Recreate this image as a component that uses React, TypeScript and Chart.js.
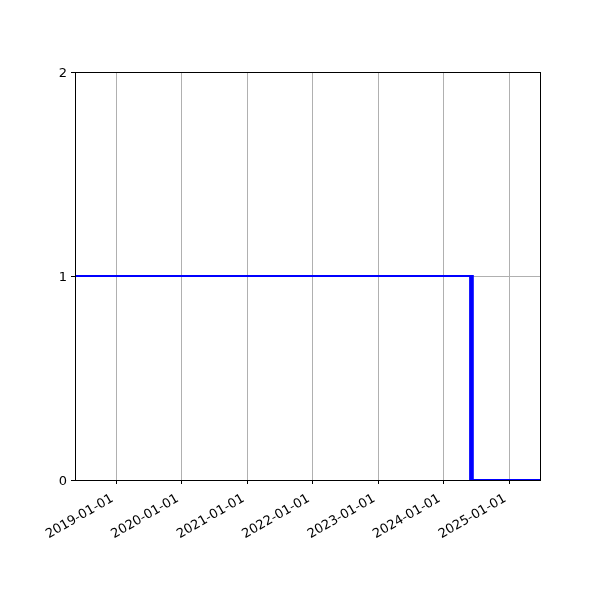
import { useEffect, useRef } from "react";
import { Chart, registerables } from "chart.js";

Chart.register(...registerables);

// step series: value holds from each date until the next one
const dates = [
  "2018-05-15",
  "2024-05-28",
  "2024-06-02",
  "2024-06-05",
  "2024-06-09",
  "2024-06-12",
  "2024-06-15",
  "2025-06-22",
];
const values = [1, 0, 1, 0, 1, 0, 0, 0];

const xStart = "2018-05-15";
const xEnd = "2025-06-22";
const tickDates = [
  "2019-01-01",
  "2020-01-01",
  "2021-01-01",
  "2022-01-01",
  "2023-01-01",
  "2024-01-01",
  "2025-01-01",
];
const yTicks = [0, 1, 2];

const ms = (d: string) => Date.parse(d + "T00:00:00Z");

const frame = {
  id: "frame",
  afterDatasetsDraw(chart: Chart) {
    const { ctx, chartArea } = chart;
    ctx.save();
    ctx.strokeStyle = "#000";
    ctx.lineWidth = 1;
    ctx.strokeRect(
      Math.round(chartArea.left) + 0.5,
      Math.round(chartArea.top) + 0.5,
      Math.round(chartArea.right - chartArea.left),
      Math.round(chartArea.bottom - chartArea.top)
    );
    ctx.restore();
  },
};

const App = () => {
  const canvasRef = useRef<HTMLCanvasElement | null>(null);
  const chartRef = useRef<Chart | null>(null);

  useEffect(() => {
    document.body.style.margin = "0";
    if (!canvasRef.current) return;
    if (chartRef.current) chartRef.current.destroy();

    const font = { family: "'DejaVu Sans'", size: 13 };

    chartRef.current = new Chart(canvasRef.current, {
      type: "line",
      data: {
        datasets: [
          {
            data: dates.map((d, i) => ({ x: ms(d), y: values[i] })),
            borderColor: "#0000ff",
            borderWidth: 2,
            pointRadius: 0,
            stepped: true,
            fill: false,
          },
        ],
      },
      options: {
        animation: false,
        responsive: false,
        maintainAspectRatio: false,
        layout: { padding: { left: 0, top: 72, right: 60, bottom: 0 } },
        plugins: {
          legend: { display: false },
          tooltip: { enabled: false },
        },
        scales: {
          x: {
            type: "linear",
            min: ms(xStart),
            max: ms(xEnd),
            afterBuildTicks: (scale: any) => {
              scale.ticks = tickDates.map((d) => ({ value: ms(d) }));
            },
            afterFit: (scale: any) => {
              scale.height = 120;
            },
            ticks: {
              minRotation: 30,
              maxRotation: 30,
              autoSkip: false,
              color: "#000",
              font,
              padding: 7,
              labelOffset: -4,
              callback: (v: any) => new Date(v).toISOString().slice(0, 10),
            },
            grid: {
              color: "#b0b0b0",
              lineWidth: 1,
              tickColor: "#000",
              tickLength: 4,
            },
            border: { color: "#000", width: 1 },
          },
          y: {
            type: "linear",
            min: 0,
            max: 2,
            afterBuildTicks: (scale: any) => {
              scale.ticks = yTicks.map((v) => ({ value: v }));
            },
            afterFit: (scale: any) => {
              scale.width = 75;
            },
            ticks: {
              color: "#000",
              font,
              padding: 4,
              labelOffset: 2,
            },
            grid: {
              color: "#b0b0b0",
              lineWidth: 1,
              tickColor: "#000",
              tickLength: 4,
            },
            border: { color: "#000", width: 1 },
          },
        },
      },
      plugins: [frame],
    });

    return () => {
      if (chartRef.current) {
        chartRef.current.destroy();
        chartRef.current = null;
      }
    };
  }, []);

  return (
    <div style={{ width: 600, height: 600, background: "#fff" }}>
      <canvas ref={canvasRef} width={600} height={600} />
    </div>
  );
};

export default App;
